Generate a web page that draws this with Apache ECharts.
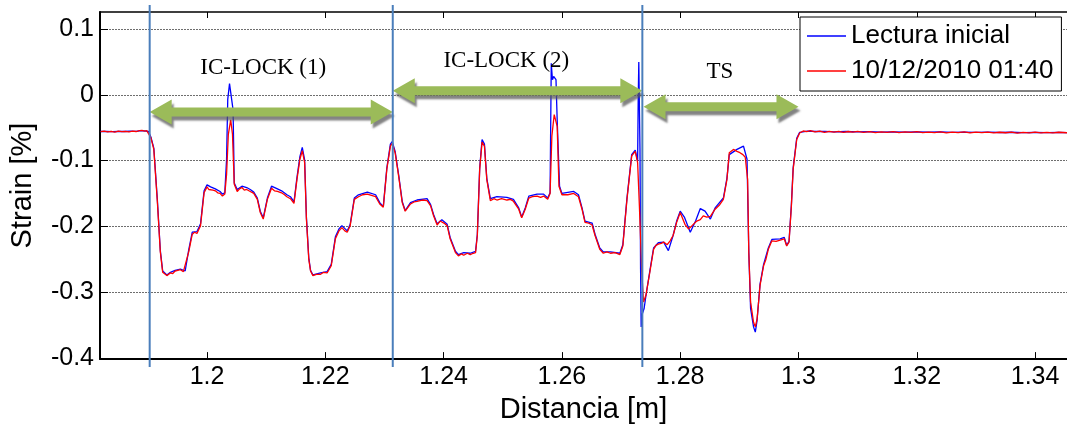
<!DOCTYPE html>
<html>
<head>
<meta charset="utf-8">
<script src="https://cdn.jsdelivr.net/npm/echarts@6/dist/echarts.min.js"></script>
<style>
  html, body { margin: 0; padding: 0; background: #fff; }
  #chart { width: 1067px; height: 429px; }
</style>
</head>
<body>
<div id="chart"></div>
<script>
// Strain profile along the fibre, two readings: [distance (m), strain (%)]
const serieNames = ['Lectura inicial', '10/12/2010 01:40'];

const lecturaInicial = [
  [1.1820,-0.0558],[1.1830,-0.0556],[1.1840,-0.0560],[1.1850,-0.0555],[1.1860,-0.0558],[1.1870,-0.0554],
  [1.1880,-0.0556],[1.1888,-0.0545],[1.1894,-0.0548],[1.1901,-0.0558],
  [1.1905,-0.064],[1.1910,-0.081],[1.1916,-0.160],[1.1921,-0.237],[1.1925,-0.268],[1.1932,-0.274],
  [1.1938,-0.270],[1.1946,-0.267],[1.1955,-0.265],[1.1963,-0.268],[1.1969,-0.236],[1.1975,-0.209],
  [1.1983,-0.208],[1.1989,-0.196],[1.1995,-0.146],[1.2000,-0.137],[1.2006,-0.140],[1.2014,-0.143],
  [1.2022,-0.147],[1.2026,-0.151],[1.2030,-0.149],
  [1.2033,-0.098],[1.2035,-0.007],[1.2038,0.017],[1.2041,0.016],[1.2044,-0.023],[1.2046,-0.134],
  [1.2051,-0.144],[1.2059,-0.139],[1.2067,-0.141],[1.2073,-0.144],[1.2079,-0.148],[1.2085,-0.157],
  [1.2090,-0.177],[1.2095,-0.187],[1.2102,-0.157],[1.2109,-0.139],[1.2119,-0.143],[1.2126,-0.146],
  [1.2135,-0.152],[1.2141,-0.155],[1.2147,-0.163],[1.2152,-0.126],[1.2157,-0.094],[1.2161,-0.080],
  [1.2165,-0.099],[1.2168,-0.186],[1.2172,-0.248],[1.2175,-0.267],[1.2179,-0.274],[1.2192,-0.271],
  [1.2203,-0.269],[1.2210,-0.258],[1.2217,-0.216],[1.2223,-0.204],[1.2228,-0.199],[1.2237,-0.207],
  [1.2242,-0.197],[1.2249,-0.157],[1.2256,-0.152],[1.2271,-0.148],[1.2285,-0.152],[1.2292,-0.164],
  [1.2298,-0.170],[1.2304,-0.111],[1.2310,-0.075],[1.2313,-0.071],[1.2318,-0.086],[1.2324,-0.122],
  [1.2330,-0.162],[1.2335,-0.176],[1.2344,-0.164],[1.2355,-0.160],[1.2372,-0.158],[1.2378,-0.167],
  [1.2383,-0.182],[1.2389,-0.196],[1.2397,-0.190],[1.2406,-0.197],[1.2411,-0.217],[1.2420,-0.238],
  [1.2425,-0.243],[1.2434,-0.240],[1.2445,-0.241],[1.2454,-0.238],[1.2457,-0.212],[1.2461,-0.111],
  [1.2465,-0.068],[1.2469,-0.075],[1.2473,-0.127],[1.2479,-0.158],[1.2490,-0.155],[1.2507,-0.156],
  [1.2518,-0.159],[1.2527,-0.172],[1.2532,-0.186],[1.2538,-0.172],[1.2544,-0.154],[1.2558,-0.151],
  [1.2569,-0.151],[1.2576,-0.157],[1.2580,-0.149],
  [1.2582,0.048],[1.2584,0.023],[1.2586,0.028],[1.2590,0.023],[1.2592,-0.038],[1.2596,-0.139],
  [1.2600,-0.150],[1.2603,-0.152],[1.2620,-0.147],[1.2628,-0.152],[1.2634,-0.172],[1.2639,-0.192],
  [1.2651,-0.195],[1.2656,-0.212],[1.2664,-0.233],[1.2670,-0.239],[1.2682,-0.239],[1.2698,-0.241],
  [1.2703,-0.228],[1.2710,-0.157],[1.2718,-0.091],[1.2724,-0.084],[1.2728,-0.101],
  [1.2729,-0.008],[1.2730,0.050],[1.2732,-0.083],[1.2733,-0.265],[1.2734,-0.353],[1.2736,-0.333],
  [1.2739,-0.325],[1.2742,-0.306],[1.2749,-0.266],[1.2755,-0.233],[1.2763,-0.225],[1.2772,-0.224],
  [1.2780,-0.237],[1.2788,-0.214],[1.2794,-0.192],[1.2800,-0.177],[1.2807,-0.186],[1.2817,-0.209],
  [1.2826,-0.192],[1.2834,-0.173],[1.2842,-0.177],[1.2851,-0.189],[1.2859,-0.172],[1.2873,-0.157],
  [1.2879,-0.127],[1.2883,-0.091],[1.2896,-0.083],[1.2907,-0.078],[1.2913,-0.098],[1.2916,-0.240],
  [1.2919,-0.325],[1.2924,-0.353],[1.2927,-0.361],[1.2930,-0.343],[1.2935,-0.288],[1.2941,-0.258],
  [1.2949,-0.233],[1.2955,-0.220],[1.2969,-0.219],[1.2976,-0.217],[1.2980,-0.229],[1.2984,-0.223],
  [1.2988,-0.167],[1.2991,-0.111],[1.2997,-0.066],[1.3002,-0.057],
  [1.3015,-0.0553],[1.3030,-0.0558],[1.3045,-0.0555],[1.3060,-0.0562],[1.3080,-0.0558],[1.3100,-0.0563],
  [1.3120,-0.0560],[1.3140,-0.0566],[1.3160,-0.0562],[1.3180,-0.0568],[1.3200,-0.0563],[1.3220,-0.0569],
  [1.3240,-0.0565],[1.3260,-0.0571],[1.3280,-0.0566],[1.3300,-0.0572],[1.3320,-0.0568],[1.3340,-0.0573],
  [1.3360,-0.0569],[1.3380,-0.0574],[1.3400,-0.0570],[1.3420,-0.0575],[1.3440,-0.0571],[1.3454,-0.0574]
];

const lectura20101210 = [
  [1.1820,-0.0560],[1.1826,-0.0553],[1.1832,-0.0562],[1.1838,-0.0556],[1.1844,-0.0566],[1.1850,-0.0552],
  [1.1856,-0.0560],[1.1862,-0.0555],[1.1868,-0.0563],[1.1874,-0.0551],[1.1880,-0.0558],[1.1886,-0.0546],
  [1.1890,-0.0540],[1.1894,-0.0552],[1.1898,-0.0545],[1.1901,-0.0560],
  [1.1905,-0.065],[1.1910,-0.083],[1.1916,-0.163],[1.1921,-0.239],[1.1925,-0.270],[1.1932,-0.275],
  [1.1938,-0.271],[1.1942,-0.272],[1.1946,-0.268],[1.1949,-0.270],[1.1955,-0.266],[1.1960,-0.269],
  [1.1963,-0.270],[1.1969,-0.239],[1.1975,-0.212],[1.1979,-0.209],[1.1983,-0.211],[1.1986,-0.205],
  [1.1989,-0.199],[1.1995,-0.149],[1.2000,-0.140],[1.2003,-0.144],[1.2006,-0.142],[1.2010,-0.145],
  [1.2014,-0.146],[1.2018,-0.149],[1.2022,-0.150],[1.2026,-0.154],[1.2030,-0.151],
  [1.2033,-0.121],[1.2036,-0.060],[1.2040,-0.038],[1.2043,-0.060],[1.2046,-0.136],
  [1.2051,-0.147],[1.2055,-0.143],[1.2059,-0.141],[1.2063,-0.145],[1.2067,-0.144],[1.2073,-0.147],
  [1.2079,-0.150],[1.2085,-0.159],[1.2090,-0.179],[1.2095,-0.189],[1.2102,-0.159],[1.2109,-0.142],
  [1.2114,-0.146],[1.2119,-0.147],[1.2126,-0.149],[1.2131,-0.152],[1.2135,-0.155],[1.2141,-0.158],
  [1.2147,-0.165],[1.2152,-0.129],[1.2157,-0.098],[1.2161,-0.085],[1.2165,-0.103],[1.2168,-0.189],
  [1.2172,-0.250],[1.2175,-0.268],[1.2179,-0.275],[1.2185,-0.273],[1.2192,-0.273],[1.2197,-0.270],
  [1.2203,-0.271],[1.2210,-0.260],[1.2217,-0.219],[1.2223,-0.207],[1.2228,-0.202],[1.2233,-0.207],
  [1.2237,-0.209],[1.2242,-0.199],[1.2249,-0.159],[1.2256,-0.155],[1.2263,-0.152],[1.2271,-0.151],
  [1.2278,-0.153],[1.2285,-0.155],[1.2292,-0.166],[1.2298,-0.171],[1.2304,-0.113],[1.2310,-0.078],
  [1.2313,-0.074],[1.2318,-0.088],[1.2324,-0.124],[1.2330,-0.164],[1.2335,-0.177],[1.2344,-0.166],
  [1.2350,-0.163],[1.2355,-0.162],[1.2364,-0.160],[1.2372,-0.161],[1.2378,-0.169],[1.2383,-0.184],
  [1.2389,-0.198],[1.2394,-0.192],[1.2397,-0.193],[1.2402,-0.196],[1.2406,-0.199],[1.2411,-0.219],
  [1.2420,-0.240],[1.2425,-0.245],[1.2430,-0.242],[1.2434,-0.244],[1.2440,-0.241],[1.2445,-0.243],
  [1.2450,-0.241],[1.2454,-0.240],[1.2457,-0.214],[1.2461,-0.113],[1.2465,-0.072],[1.2469,-0.078],
  [1.2473,-0.129],[1.2479,-0.161],[1.2485,-0.158],[1.2490,-0.160],[1.2498,-0.158],[1.2507,-0.160],
  [1.2513,-0.159],[1.2518,-0.162],[1.2527,-0.174],[1.2532,-0.187],[1.2538,-0.174],[1.2544,-0.157],
  [1.2550,-0.155],[1.2558,-0.154],[1.2564,-0.156],[1.2569,-0.154],[1.2576,-0.159],[1.2580,-0.150],
  [1.2583,-0.063],[1.2587,-0.030],[1.2592,-0.048],[1.2595,-0.139],[1.2600,-0.152],
  [1.2603,-0.155],[1.2610,-0.152],[1.2620,-0.150],[1.2628,-0.155],[1.2634,-0.174],[1.2639,-0.194],
  [1.2645,-0.195],[1.2651,-0.198],[1.2656,-0.214],[1.2664,-0.235],[1.2670,-0.241],[1.2676,-0.239],
  [1.2682,-0.241],[1.2690,-0.240],[1.2698,-0.243],[1.2703,-0.230],[1.2710,-0.159],[1.2718,-0.093],
  [1.2724,-0.086],[1.2728,-0.103],[1.2731,-0.169],[1.2735,-0.269],[1.2738,-0.315],[1.2742,-0.305],
  [1.2749,-0.268],[1.2755,-0.235],[1.2759,-0.229],[1.2763,-0.227],[1.2768,-0.226],[1.2772,-0.224],
  [1.2778,-0.228],[1.2783,-0.222],[1.2788,-0.214],[1.2794,-0.194],[1.2800,-0.179],[1.2808,-0.197],
  [1.2814,-0.204],[1.2820,-0.199],[1.2828,-0.192],[1.2834,-0.190],[1.2839,-0.184],[1.2845,-0.186],
  [1.2851,-0.185],[1.2859,-0.174],[1.2866,-0.168],[1.2873,-0.159],[1.2879,-0.129],[1.2883,-0.088],
  [1.2890,-0.083],[1.2896,-0.086],[1.2901,-0.088],[1.2906,-0.091],[1.2910,-0.095],[1.2914,-0.129],
  [1.2916,-0.240],[1.2919,-0.315],[1.2924,-0.346],[1.2927,-0.353],[1.2930,-0.341],[1.2935,-0.290],
  [1.2941,-0.260],[1.2945,-0.250],[1.2949,-0.235],[1.2955,-0.222],[1.2962,-0.223],[1.2969,-0.221],
  [1.2976,-0.219],[1.2980,-0.230],[1.2984,-0.224],[1.2988,-0.169],[1.2991,-0.113],[1.2997,-0.068],
  [1.3002,-0.058],
  [1.3008,-0.0550],[1.3014,-0.0560],[1.3020,-0.0545],[1.3028,-0.0565],[1.3036,-0.0552],[1.3044,-0.0570],
  [1.3052,-0.0555],[1.3060,-0.0568],[1.3068,-0.0556],[1.3076,-0.0572],[1.3084,-0.0558],[1.3092,-0.0566],
  [1.3100,-0.0555],[1.3110,-0.0570],[1.3120,-0.0560],[1.3130,-0.0574],[1.3140,-0.0562],[1.3150,-0.0571],
  [1.3160,-0.0559],[1.3170,-0.0575],[1.3180,-0.0564],[1.3190,-0.0572],[1.3200,-0.0561],[1.3210,-0.0576],
  [1.3220,-0.0566],[1.3230,-0.0574],[1.3240,-0.0563],[1.3250,-0.0578],[1.3260,-0.0567],[1.3270,-0.0575],
  [1.3280,-0.0565],[1.3290,-0.0579],[1.3300,-0.0568],[1.3310,-0.0576],[1.3320,-0.0566],[1.3330,-0.0580],
  [1.3340,-0.0569],[1.3350,-0.0577],[1.3360,-0.0567],[1.3370,-0.0581],[1.3380,-0.0570],[1.3390,-0.0578],
  [1.3400,-0.0568],[1.3410,-0.0580],[1.3420,-0.0571],[1.3430,-0.0579],[1.3440,-0.0569],[1.3454,-0.0577]
];

// Axis ticks
const xTicks = [1.2, 1.22, 1.24, 1.26, 1.28, 1.3, 1.32, 1.34];
const yTicks = [-0.4, -0.3, -0.2, -0.1, 0, 0.1];

// Marked zones along the fibre
const sectionNames  = ['IC-LOCK (1)', 'IC-LOCK (2)', 'TS'];
const sectionStarts = [1.1903, 1.2314, 1.2738];
const sectionEnds   = [1.2314, 1.2736, 1.3000];
const dividers      = [1.1903, 1.2314, 1.2736];

const X_MIN = 1.1819, X_MAX = 1.3454;
const Y_MIN = -0.402, Y_MAX = 0.126;

const SANS = '"Liberation Sans", Arial, sans-serif';
const SERIF = '"Liberation Serif", "Times New Roman", serif';

const fmt = v => String(Math.round(v * 1000) / 1000);

const chart = echarts.init(document.getElementById('chart'), null, { renderer: 'canvas' });

chart.setOption({
  animation: false,
  backgroundColor: '#ffffff',
  grid: { left: 100, top: 12, right: 0, bottom: 68, containLabel: false },
  legend: {
    orient: 'vertical',
    left: 800, top: 17,
    padding: [4, 8, 5, 7],
    itemGap: 5,
    icon: 'rect',
    itemWidth: 39, itemHeight: 1.5,
    backgroundColor: '#ffffff',
    borderColor: '#000000', borderWidth: 1,
    textStyle: { fontFamily: SANS, fontSize: 26, color: '#000', lineHeight: 30 },
    data: serieNames,
    z: 20
  },
  xAxis: [{
    type: 'value', min: X_MIN, max: X_MAX, position: 'bottom',
    axisLine: { onZero: false, lineStyle: { color: '#000', width: 2 } },
    axisTick: { inside: true, length: 7, customValues: xTicks, lineStyle: { color: '#000', width: 1 } },
    axisLabel: { customValues: xTicks, formatter: fmt, fontFamily: SANS, fontSize: 25, color: '#000', margin: 6 },
    splitLine: { show: false },
    name: 'Distancia [m]', nameLocation: 'middle', nameGap: 33,
    nameTextStyle: { fontFamily: SANS, fontSize: 29, color: '#000' }
  }, {
    type: 'value', min: X_MIN, max: X_MAX, position: 'top',
    axisLine: { onZero: false, lineStyle: { color: '#000', width: 1.5 } },
    axisTick: { inside: true, length: 6, customValues: xTicks, lineStyle: { color: '#000', width: 1 } },
    axisLabel: { show: false },
    splitLine: { show: false }
  }],
  yAxis: {
    type: 'value', min: Y_MIN, max: Y_MAX,
    axisLine: { onZero: false, lineStyle: { color: '#000', width: 2 } },
    axisTick: { inside: true, length: 8, customValues: yTicks, lineStyle: { color: '#000', width: 1 } },
    axisLabel: { customValues: yTicks, formatter: fmt, fontFamily: SANS, fontSize: 25, color: '#000', margin: 6 },
    splitLine: { show: true, lineStyle: { color: '#6e6e6e', width: 1, type: [2, 1] } },
    name: 'Strain [%]', nameLocation: 'middle', nameGap: 63,
    nameTextStyle: { fontFamily: SANS, fontSize: 29, color: '#000' }
  },
  series: [{
    name: serieNames[0], type: 'line', data: lecturaInicial,
    symbol: 'none', showSymbol: false,
    lineStyle: { color: '#0000ff', width: 1.3 }, itemStyle: { color: '#0000ff' },
    z: 2
  }, {
    name: serieNames[1], type: 'line', data: lectura20101210,
    symbol: 'none', showSymbol: false,
    lineStyle: { color: '#ff0000', width: 1.3 }, itemStyle: { color: '#ff0000' },
    z: 3
  }]
});

// Overlay: zone dividers, double-headed span arrows and zone titles
function px(x, y) { return chart.convertToPixel({ gridIndex: 0 }, [x, y]); }

function doubleArrow(x1, x2, y) {
  const hl = 22, hh = 12.5, st = 4.5;
  return [
    [x1, y], [x1 + hl, y - hh], [x1 + hl, y - st], [x2 - hl, y - st], [x2 - hl, y - hh],
    [x2, y], [x2 - hl, y + hh], [x2 - hl, y + st], [x1 + hl, y + st], [x1 + hl, y + hh]
  ];
}

const arrowLevels = [-0.026, 0.0062, -0.018];      // strain level of each span arrow
const titleAnchors = [[1.2095, 0.041], [1.2506, 0.052], [1.2867, 0.035]];

const overlay = [];
dividers.forEach(d => {
  const p = px(d, 0);
  overlay.push({
    type: 'line', z: 50, silent: true,
    shape: { x1: p[0], y1: 5, x2: p[0], y2: 367 },
    style: { stroke: '#4a7ebb', lineWidth: 2 }
  });
});
sectionNames.forEach((name, i) => {
  const a = px(sectionStarts[i], arrowLevels[i]);
  const b = px(sectionEnds[i], arrowLevels[i]);
  overlay.push({
    type: 'polygon', z: 49, silent: true,
    shape: { points: doubleArrow(a[0], b[0], a[1]) },
    style: {
      fill: '#9bbb59',
      shadowBlur: 2, shadowColor: 'rgba(90,90,90,0.75)',
      shadowOffsetX: 2, shadowOffsetY: 4
    }
  });
  const t = px(titleAnchors[i][0], titleAnchors[i][1]);
  overlay.push({
    type: 'text', z: 51, silent: true,
    style: {
      text: name, x: t[0], y: t[1],
      fontFamily: SERIF, fontSize: 23, fill: '#000',
      align: 'center', verticalAlign: 'middle'
    }
  });
});
chart.setOption({ graphic: overlay });
</script>
</body>
</html>
